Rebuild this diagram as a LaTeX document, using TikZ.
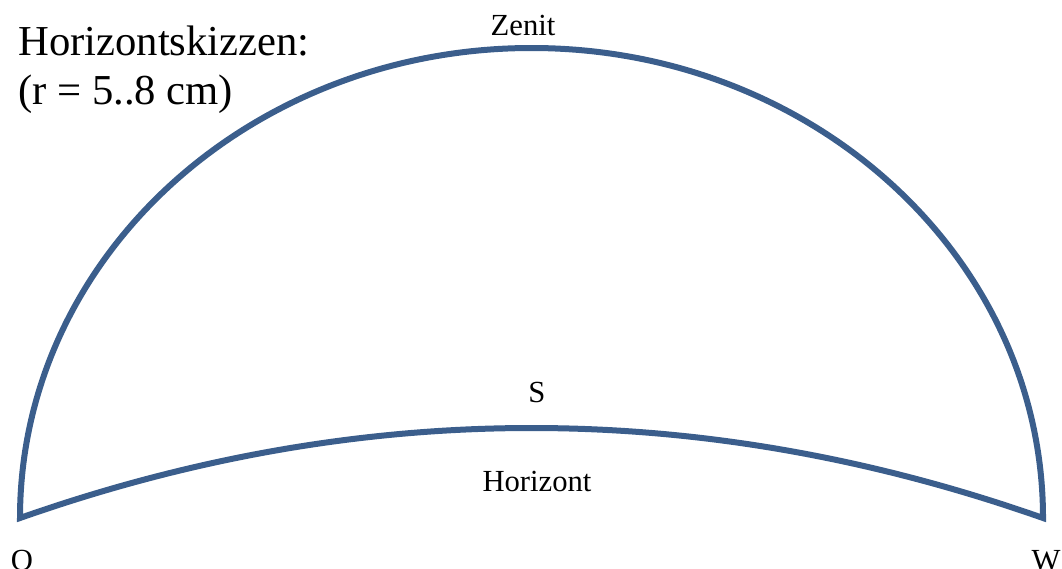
\documentclass[tikz,border=0pt]{standalone}
\usepackage{fontspec}
\setmainfont{Liberation Serif}
\definecolor{arcblue}{HTML}{3B5E8C}
\begin{document}
\begin{tikzpicture}[x=0.75pt,y=-0.75pt,
  arcline/.style={draw=arcblue,line width=4.5pt,line join=miter},
  lbl/.style={font=\fontsize{23}{26}\selectfont,anchor=base,inner sep=0pt},
  ttl/.style={font=\fontsize{32}{36}\selectfont,anchor=base west,inner sep=0pt}]
\useasboundingbox (0,0) rectangle (1062,568);
\coordinate (o) at (20,518);
\coordinate (w) at (1043,518);
\draw[arcline] (o) arc[start angle=180,end angle=0,x radius=511.5,y radius=-470]
  .. controls (702,398) and (361,398) .. cycle;
\node[ttl] (t1) at (18,55) {Horizontskizzen:};
\node[ttl] (t2) at (18,104) {(r = 5..8 cm)};
\node[lbl] (zenit) at (523,35) {Zenit};
\node[lbl] (s) at (537,402) {S};
\node[lbl] (hor) at (537,491) {Horizont};
\node[lbl] (ol) at (22,570) {O};
\node[lbl] (wl) at (1046,570) {W};
\end{tikzpicture}
\end{document}
